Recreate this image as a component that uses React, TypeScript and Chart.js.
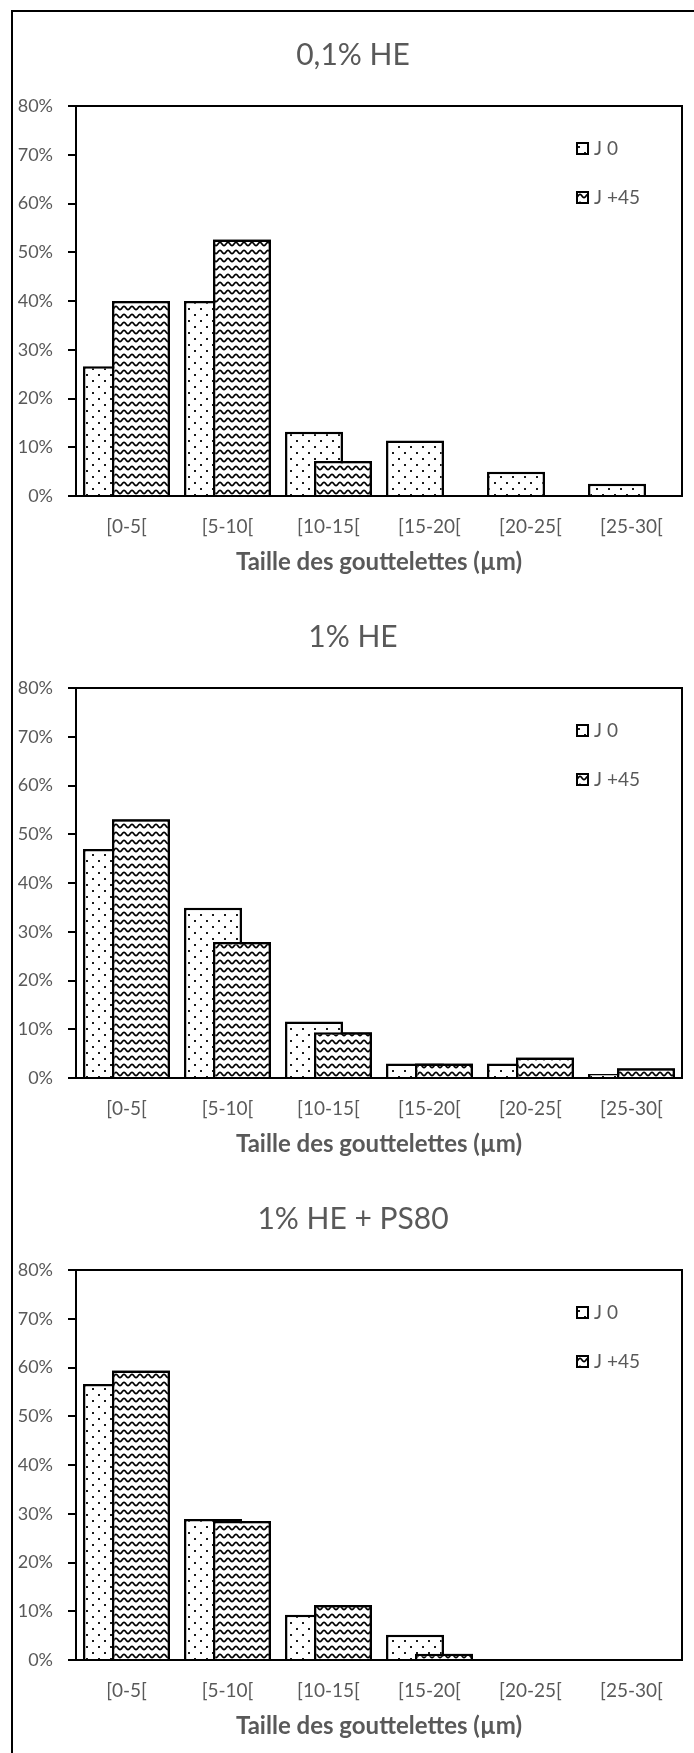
import React, { useEffect, useRef } from 'react';
import { Chart, registerables } from 'chart.js';

Chart.register(...registerables);

const categories = ['[0-5[', '[5-10[', '[10-15[', '[15-20[', '[20-25[', '[25-30['];
const seriesNames = ['J 0', 'J +45'];
const panelTitles = ['0,1% HE', '1% HE', '1% HE + PS80'];
const xAxisTitle = 'Taille des gouttelettes (µm)';

// values in %
const j0_01HE = [26.6, 40.0, 13.2, 11.4, 5.0, 2.5];
const j45_01HE = [40.0, 52.6, 7.2, 0, 0, 0];
const j0_1HE = [47.0, 34.9, 11.6, 3.0, 3.0, 0.8];
const j45_1HE = [53.1, 27.9, 9.4, 3.0, 4.2, 2.0];
const j0_PS80 = [56.6, 28.9, 9.3, 5.2, 0, 0];
const j45_PS80 = [59.4, 28.5, 11.3, 1.3, 0, 0];

const yMin = 0;
const yMax = 80;
const yStep = 10;

const GRAY = '#595959';
const FONT = 'Lato';

function makeDots(ctx: CanvasRenderingContext2D) {
  const c = document.createElement('canvas');
  c.width = 12;
  c.height = 12;
  const g = c.getContext('2d')!;
  g.fillStyle = '#ffffff';
  g.fillRect(0, 0, 12, 12);
  g.fillStyle = '#1a1a1a';
  g.fillRect(2, 2, 2, 2);
  g.fillRect(8, 8, 2, 2);
  return ctx.createPattern(c, 'repeat')!;
}

function makeWave(ctx: CanvasRenderingContext2D) {
  const c = document.createElement('canvas');
  c.width = 8;
  c.height = 8;
  const g = c.getContext('2d')!;
  g.fillStyle = '#ffffff';
  g.fillRect(0, 0, 8, 8);
  g.strokeStyle = '#000000';
  g.lineWidth = 1.7;
  g.beginPath();
  for (let i = -2; i <= 20; i++) {
    const x = i * 0.5;
    const y = 4 + 1.7 * Math.cos((2 * Math.PI * x) / 8);
    if (i === -2) g.moveTo(x, y);
    else g.lineTo(x, y);
  }
  g.stroke();
  return ctx.createPattern(c, 'repeat')!;
}

const framePlugin = {
  id: 'frameAndOrder',
  afterDatasetsDraw(chart: any) {
    const meta = chart.getDatasetMeta(1);
    if (meta && meta.controller) meta.controller.draw();
    const { ctx, chartArea } = chart;
    ctx.save();
    ctx.lineWidth = 2;
    ctx.strokeStyle = '#000';
    ctx.strokeRect(chartArea.left, chartArea.top, chartArea.right - chartArea.left, chartArea.bottom - chartArea.top);
    ctx.restore();
  },
};

const panelTitle = {
  id: 'panelTitle',
  afterDraw(chart: any, _args: any, opts: any) {
    const { ctx } = chart;
    ctx.save();
    ctx.fillStyle = GRAY;
    ctx.font = `30px ${FONT}`;
    ctx.textAlign = 'center';
    ctx.textBaseline = 'middle';
    ctx.fillText(opts.text, (12 + chart.width) / 2, 55);
    ctx.restore();
  },
};

const cornerLegend = {
  id: 'cornerLegend',
  afterDraw(chart: any) {
    const { ctx, chartArea } = chart;
    ctx.save();
    chart.data.datasets.forEach((ds: any, i: number) => {
      const x = chartArea.right - 105;
      const y = chartArea.top + 37 + i * 49;
      ctx.fillStyle = ds.backgroundColor;
      ctx.fillRect(x, y, 11, 11);
      ctx.lineWidth = 2;
      ctx.strokeStyle = '#000';
      ctx.strokeRect(x, y, 11, 11);
      ctx.fillStyle = GRAY;
      ctx.font = `19px ${FONT}`;
      ctx.textBaseline = 'middle';
      ctx.textAlign = 'left';
      ctx.fillText(ds.label, x + 17, y + 6);
    });
    ctx.restore();
  },
};

function BarPanel({ title, j0, j45, top }: { title: string; j0: number[]; j45: number[]; top: number }) {
  const ref = useRef<HTMLCanvasElement>(null);
  useEffect(() => {
    const canvas = ref.current!;
    const ctx = canvas.getContext('2d')!;
    const chart = new Chart(ctx, {
      type: 'bar',
      data: {
        labels: categories,
        datasets: [
          {
            label: seriesNames[0],
            data: j0,
            backgroundColor: makeDots(ctx),
            borderColor: '#000',
            borderWidth: 2.5,
            categoryPercentage: 0.574,
            barPercentage: 2.0,
          },
          {
            label: seriesNames[1],
            data: j45,
            backgroundColor: makeWave(ctx),
            borderColor: '#000',
            borderWidth: 2.5,
            categoryPercentage: 0.574,
            barPercentage: 2.0,
          },
        ],
      },
      options: {
        responsive: false,
        animation: false,
        layout: { padding: { left: 6, right: 12, top: 106, bottom: 0 } },
        plugins: {
          legend: { display: false },
          tooltip: { enabled: false },
          title: { display: false },
          panelTitle: { text: title },
        },
        scales: {
          x: {
            grid: { display: false, drawTicks: false },
            border: { display: false },
            ticks: { color: GRAY, font: { family: FONT, size: 19 }, padding: 19 },
            title: {
              display: true,
              text: xAxisTitle,
              color: GRAY,
              font: { family: FONT, size: 24, weight: 'bold' },
              padding: { top: 4, bottom: 5 },
            },
            afterFit: (s: any) => {
              s.height = 86;
            },
          },
          y: {
            min: yMin,
            max: yMax,
            ticks: {
              stepSize: yStep,
              callback: (v: any) => v + '%',
              color: GRAY,
              font: { family: FONT, size: 18 },
              padding: 15,
            },
            grid: { drawOnChartArea: false, drawTicks: true, tickLength: 8, color: '#000', lineWidth: 2 },
            border: { display: false },
            afterFit: (s: any) => {
              s.width = 70;
            },
          },
        },
      } as any,
      plugins: [framePlugin, cornerLegend, panelTitle],
    });
    return () => chart.destroy();
  }, [title, j0, j45]);
  return (
    <canvas
      ref={ref}
      width={694}
      height={582}
      style={{ position: 'absolute', left: 0, top, width: 694, height: 582 }}
    />
  );
}

export default function App() {
  return (
    <div
      style={{
        position: 'absolute',
        left: 0,
        top: 0,
        width: 694,
        height: 1753,
        overflow: 'hidden',
        background: '#fff',
      }}
    >
      <div
        style={{
          position: 'absolute',
          left: 11,
          top: 10,
          width: 760,
          height: 1800,
          border: '2px solid #000',
          boxSizing: 'border-box',
        }}
      />
      <BarPanel title={panelTitles[0]} j0={j0_01HE} j45={j45_01HE} top={0} />
      <BarPanel title={panelTitles[1]} j0={j0_1HE} j45={j45_1HE} top={582} />
      <BarPanel title={panelTitles[2]} j0={j0_PS80} j45={j45_PS80} top={1164} />
    </div>
  );
}
